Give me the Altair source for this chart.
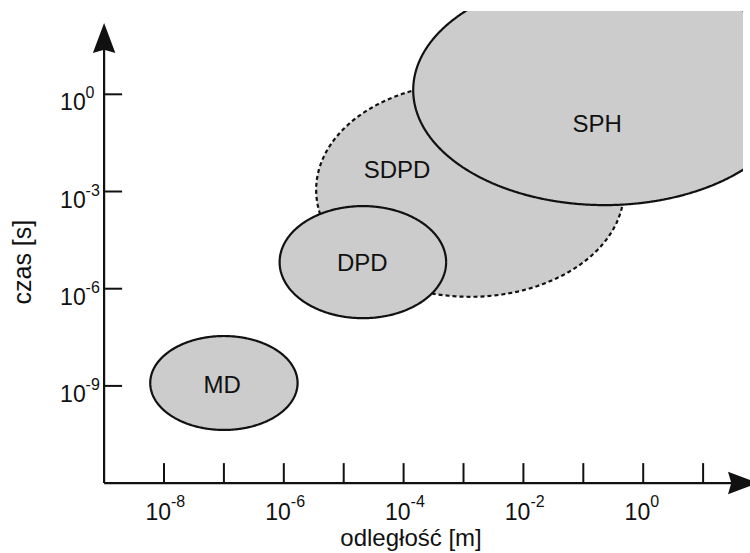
import altair as alt
import pandas as pd

# ---- data (log10 units) ----
ellipse_names = ["SDPD", "SPH", "DPD", "MD"]
ellipse_cx = [-2.89, -0.64, -4.68, -7.00]   # log10(odległość [m])
ellipse_cy = [-2.95, 0.13, -5.18, -8.91]    # log10(czas [s])
ellipse_rx = [2.57, 3.20, 1.39, 1.23]       # half-width in decades
ellipse_ry = [3.30, 3.55, 1.73, 1.45]       # half-height in decades

label_names = ["SDPD", "SPH", "DPD", "MD"]
label_x = [-4.11, -0.77, -4.69, -7.03]
label_y = [-2.37, -0.95, -5.24, -9.00]

x_tick_exps = [-8, -7, -6, -5, -4, -3, -2, -1, 0, 1]
x_label_exps = [-8, -6, -4, -2, 0]
y_label_exps = [0, -3, -6, -9]

x_origin = -9.0
y_origin = -12.0
x_axis_end = 1.50
y_axis_end = 1.50
x_arrow_mid = 1.666
y_arrow_mid = 1.738

x_title = "odległość [m]"
y_title = "czas [s]"

X_DOMAIN = [-10.738, 1.666]
Y_DOMAIN = [-14.157, 2.571]

FONT = "Liberation Sans"
FILL = "#cccccc"
INK = "#111111"

xs = alt.Scale(domain=X_DOMAIN, nice=False, zero=False)
ys = alt.Scale(domain=Y_DOMAIN, nice=False, zero=False)


def X(field):
    return alt.X(field, scale=xs, axis=None)


def Y(field):
    return alt.Y(field, scale=ys, axis=None)


ell_df = pd.DataFrame({
    "name": ellipse_names, "cx": ellipse_cx, "cy": ellipse_cy,
    "rx": ellipse_rx, "ry": ellipse_ry,
})

ell_base = (
    alt.Chart(ell_df)
    .transform_calculate(t="sequence(0, 361, 2)")
    .transform_flatten(["t"])
    .transform_calculate(
        px="datum.cx + datum.rx * cos(datum.t * PI / 180)",
        py="datum.cy + datum.ry * sin(datum.t * PI / 180)",
    )
)

layers = []
for name in ellipse_names:
    dash = [4, 3] if name == "SDPD" else [1, 0]
    layers.append(
        ell_base.transform_filter(alt.datum.name == name)
        .mark_line(fill=FILL, stroke=INK, strokeWidth=2.2, strokeDash=dash, clip=True)
        .encode(x=X("px:Q"), y=Y("py:Q"), order=alt.Order("t:Q"))
    )

# labels inside ellipses
lab_df = pd.DataFrame({"name": label_names, "x": label_x, "y": label_y})
layers.append(
    alt.Chart(lab_df)
    .mark_text(font=FONT, fontSize=24, color=INK, align="center", baseline="middle")
    .encode(x=X("x:Q"), y=Y("y:Q"), text="name:N")
)

# axis lines
axis_df = pd.DataFrame({
    "x": [x_origin, x_origin], "x2": [x_axis_end, x_origin],
    "y": [y_origin, y_origin], "y2": [y_origin, y_axis_end],
})
layers.append(
    alt.Chart(axis_df).mark_rule(color=INK, strokeWidth=2.2)
    .encode(x=X("x:Q"), x2="x2:Q", y=Y("y:Q"), y2="y2:Q")
)

# arrow heads
arrow_df = pd.DataFrame({
    "x": [x_arrow_mid, x_origin], "y": [y_origin, y_arrow_mid],
    "shape": ["M1,0L-1,0.75L-0.78,0L-1,-0.75Z", "M0,-1L0.75,1L0,0.78L-0.75,1Z"],
})
layers.append(
    alt.Chart(arrow_df).mark_point(filled=True, size=900, opacity=1, color=INK, strokeWidth=0)
    .encode(x=X("x:Q"), y=Y("y:Q"), shape=alt.Shape("shape:N", scale=None))
)

# x ticks (upward from axis)
xt_df = pd.DataFrame({"e": x_tick_exps})
layers.append(
    alt.Chart(xt_df).mark_rule(color=INK, strokeWidth=2, y2Offset=-20)
    .encode(x=X("e:Q"), y=alt.Y(datum=y_origin, scale=ys, axis=None), y2=alt.datum(y_origin))
)

# y ticks (rightward from axis)
yt_df = pd.DataFrame({"e": y_label_exps})
layers.append(
    alt.Chart(yt_df).mark_rule(color=INK, strokeWidth=2, x2Offset=18)
    .encode(y=Y("e:Q"), x=alt.X(datum=x_origin, scale=xs, axis=None), x2=alt.datum(x_origin))
)

# x tick labels: "10" + superscript exponent
xl_df = pd.DataFrame({"e": x_label_exps, "exp": [str(e) for e in x_label_exps]})
layers.append(
    alt.Chart(xl_df).mark_text(font=FONT, fontSize=23, color=INK, align="right",
                               baseline="alphabetic", dx=7, dy=37, text="10")
    .encode(x=X("e:Q"), y=alt.Y(datum=y_origin, scale=ys, axis=None))
)
layers.append(
    alt.Chart(xl_df).mark_text(font=FONT, fontSize=16, color=INK, align="left",
                               baseline="alphabetic", dx=7, dy=23.5)
    .encode(x=X("e:Q"), y=alt.Y(datum=y_origin, scale=ys, axis=None), text="exp:N")
)

# y tick labels
yl_df = pd.DataFrame({"e": y_label_exps, "exp": [str(e) for e in y_label_exps]})
layers.append(
    alt.Chart(yl_df).mark_text(font=FONT, fontSize=23, color=INK, align="left",
                               baseline="alphabetic", dx=-44, dy=16, text="10")
    .encode(y=Y("e:Q"), x=alt.X(datum=x_origin, scale=xs, axis=None))
)
layers.append(
    alt.Chart(yl_df).mark_text(font=FONT, fontSize=16, color=INK, align="left",
                               baseline="alphabetic", dx=-18.5, dy=4)
    .encode(y=Y("e:Q"), x=alt.X(datum=x_origin, scale=xs, axis=None), text="exp:N")
)

# axis titles
layers.append(
    alt.Chart(pd.DataFrame({"t": [x_title]})).mark_text(
        font=FONT, fontSize=24, color=INK, align="center", baseline="alphabetic", dy=63)
    .encode(x=alt.X(datum=-3.876, scale=xs, axis=None),
            y=alt.Y(datum=y_origin, scale=ys, axis=None), text="t:N")
)
layers.append(
    alt.Chart(pd.DataFrame({"t": [y_title]})).mark_text(
        font=FONT, fontSize=25, color=INK, align="center", baseline="alphabetic", angle=270)
    .encode(x=alt.X(datum=-10.22, scale=xs, axis=None),
            y=alt.Y(datum=-5.18, scale=ys, axis=None), text="t:N")
)

chart = (
    alt.layer(*layers)
    .properties(width=743, height=542, autosize="none",
                padding={"left": 0, "top": 11, "right": 7, "bottom": 0},
                background="white")
    .configure_view(stroke=None)
)

chart.save("out.html", embed_options={"renderer": "svg", "actions": False})
